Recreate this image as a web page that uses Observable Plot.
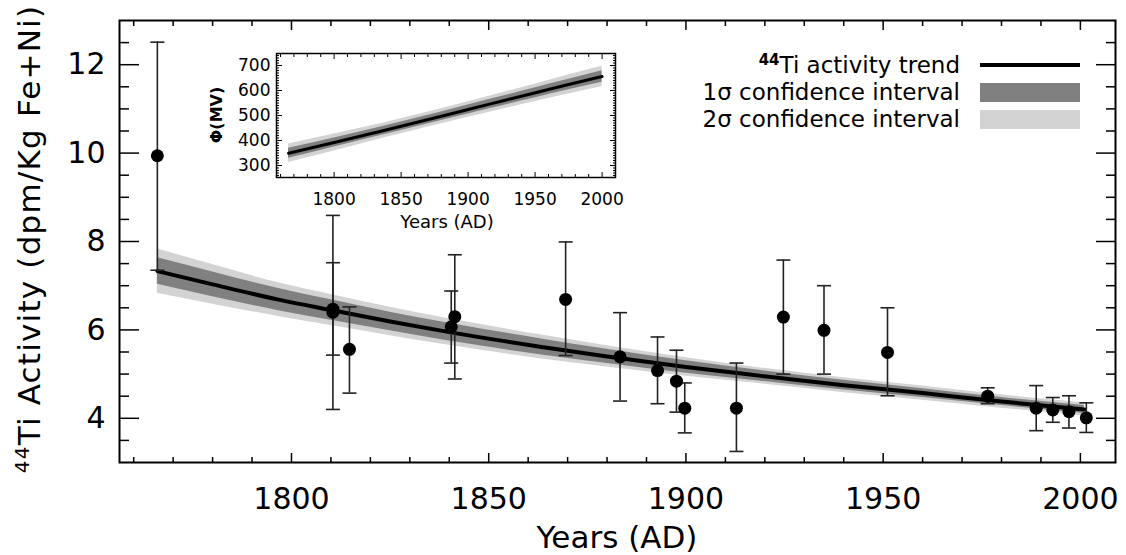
<!DOCTYPE html>
<html><head><meta charset="utf-8">
<script src="https://cdn.jsdelivr.net/npm/d3@7"></script>
<script src="https://cdn.jsdelivr.net/npm/@observablehq/plot@0.6"></script>
<style>
body{margin:0;background:#fff;}
#wrap{position:relative;width:1126px;height:555px;font-family:"DejaVu Sans",sans-serif;background:#fff;}
#wrap svg{position:absolute;background:transparent !important;overflow:visible;}
</style></head><body><div id="wrap"></div>
<script>
// ---- Measured samples (44Ti activity, dpm/kg Fe+Ni) ----
const sampleYears = [1766, 1810.5, 1810.5, 1814.7, 1840.5, 1841.4, 1869.5, 1883.3, 1892.8, 1897.6, 1899.7, 1912.8, 1924.7, 1935.0, 1951.1, 1976.5, 1988.8, 1993.0, 1997.1, 2001.5];
const activity    = [9.94, 6.40, 6.47, 5.56, 6.07, 6.30, 6.69, 5.39, 5.08, 4.84, 4.23, 4.23, 6.29, 5.99, 5.49, 4.50, 4.23, 4.19, 4.15, 4.01];
const errLow      = [7.35, 4.20, 5.43, 4.57, 5.25, 4.89, 5.42, 4.39, 4.33, 4.14, 3.67, 3.25, 5.00, 5.00, 4.51, 4.33, 3.72, 3.91, 3.78, 3.68];
const errHigh     = [12.51, 8.59, 7.52, 6.52, 6.88, 7.70, 7.99, 6.39, 5.84, 5.54, 4.80, 5.25, 7.58, 7.00, 6.50, 4.69, 4.74, 4.47, 4.51, 4.35];

// ---- Activity trend and confidence half-widths ----
const trendYears  = [1766, 1780, 1797, 1810, 1825, 1840, 1863, 1880, 1900, 1919, 1940, 1960, 1980, 2001];
const trendValues = [7.33, 7.03, 6.68, 6.45, 6.19, 5.95, 5.62, 5.40, 5.16, 4.96, 4.75, 4.57, 4.38, 4.20];
const sigma1Half  = [0.30, 0.28, 0.25, 0.23, 0.21, 0.20, 0.18, 0.16, 0.14, 0.12, 0.11, 0.10, 0.09, 0.09];
const sigma2Half  = [0.50, 0.45, 0.38, 0.35, 0.32, 0.30, 0.27, 0.24, 0.21, 0.18, 0.17, 0.16, 0.15, 0.15];

// ---- Inset: modulation potential Phi (MV) ----
const insetYears  = [1766, 1800, 1827, 1850, 1877, 1900, 1927, 1951, 1975, 2000];
const insetPhi    = [349, 392, 427, 457, 493, 524, 560, 592, 624, 656];
const insetSig1   = [20, 18, 17, 17, 17, 18, 19, 20, 21, 23];
const insetSig2   = [37, 34, 31, 30, 30, 31, 33, 35, 38, 41];

// ---- Tick labels ----
const xTickLabels = [1800, 1850, 1900, 1950, 2000];
const yTickLabels = [4, 6, 8, 10, 12];
const insetYTickLabels = [300, 400, 500, 600, 700];

const points = sampleYears.map((x, i) => ({x, v: activity[i], lo: errLow[i], hi: errHigh[i]}));
const trend = trendYears.map((x, i) => ({x, y: trendValues[i],
  a1: trendValues[i] - sigma1Half[i], b1: trendValues[i] + sigma1Half[i],
  a2: trendValues[i] - sigma2Half[i], b2: trendValues[i] + sigma2Half[i]}));
const inset = insetYears.map((x, i) => ({x, y: insetPhi[i],
  a1: insetPhi[i] - insetSig1[i], b1: insetPhi[i] + insetSig1[i],
  a2: insetPhi[i] - insetSig2[i], b2: insetPhi[i] + insetSig2[i]}));

const cap = {draw(ctx) { ctx.moveTo(-7, 0); ctx.lineTo(7, 0); }};
const FONT = "DejaVu Sans";

const xMinor = d3.range(1760, 2010, 10).filter(d => !xTickLabels.includes(d));
const yMinor = d3.range(3.5, 13, 0.5).filter(d => !yTickLabels.includes(d));
const blank = () => "";

function ticks(axis, vals, anchor, size, w) {
  return axis(vals, {anchor, tickSize: -size, tickFormat: blank, label: null, stroke: "black", strokeWidth: w});
}

const main = Plot.plot({
  width: 1126, height: 555,
  marginLeft: 119, marginRight: 11, marginTop: 20, marginBottom: 93,
  x: {domain: [1756.4, 2008.9]},
  y: {domain: [3, 13]},
  style: {fontFamily: FONT, background: "transparent", color: "black"},
  marks: [
    Plot.areaY(trend, {x: "x", y1: "a2", y2: "b2", fill: "#d3d3d3", curve: "monotone-x"}),
    Plot.areaY(trend, {x: "x", y1: "a1", y2: "b1", fill: "#808080", curve: "monotone-x"}),
    Plot.line(trend, {x: "x", y: "y", stroke: "black", strokeWidth: 4, curve: "monotone-x"}),
    Plot.ruleX(points, {x: "x", y1: "lo", y2: "hi", stroke: "#222", strokeWidth: 1.6}),
    Plot.dot(points, {x: "x", y: "hi", symbol: cap, fill: "none", stroke: "#222", strokeWidth: 1.6}),
    Plot.dot(points, {x: "x", y: "lo", symbol: cap, fill: "none", stroke: "#222", strokeWidth: 1.6}),
    Plot.dot(points, {x: "x", y: "v", r: 6.5, fill: "black"}),
    Plot.frame({stroke: "black", strokeWidth: 2}),
    ticks(Plot.axisX, xTickLabels, "bottom", 9, 1.5),
    ticks(Plot.axisX, xMinor, "bottom", 5, 1.5),
    ticks(Plot.axisX, xTickLabels, "top", 9, 1.5),
    ticks(Plot.axisX, xMinor, "top", 5, 1.5),
    ticks(Plot.axisY, yTickLabels, "left", 20, 1.5),
    ticks(Plot.axisY, yMinor, "left", 10, 1.5),
    ticks(Plot.axisY, yTickLabels, "right", 20, 1.5),
    ticks(Plot.axisY, yMinor, "right", 10, 1.5),
    Plot.axisX(xTickLabels, {anchor: "bottom", tickSize: 0, tickPadding: 25, fontSize: 30, label: null, tickFormat: d => String(d)}),
    Plot.axisY(yTickLabels, {anchor: "left", tickSize: 0, tickPadding: 14, fontSize: 30, label: null, tickFormat: d => String(d)})
  ]
});
main.style.left = "0px"; main.style.top = "0px";
const ms = d3.select(main);

// axis titles
ms.append("text").attr("x", 617).attr("y", 548).attr("text-anchor", "middle")
  .attr("font-size", 31).attr("font-family", FONT).attr("fill", "black").text("Years (AD)");
const yt = ms.append("text").attr("transform", "translate(40,239) rotate(-90)").attr("text-anchor", "middle")
  .attr("font-size", 31).attr("font-family", FONT).attr("letter-spacing", 1.2).attr("fill", "black");
yt.append("tspan").attr("font-size", 20).attr("dy", -11).text("44");
yt.append("tspan").attr("dy", 11).text("Ti Activity (dpm/Kg Fe+Ni)");

// legend
const lg = ms.append("g").attr("font-family", FONT).attr("font-size", 23).attr("fill", "black");
const t1 = lg.append("text").attr("x", 960).attr("y", 73).attr("text-anchor", "end");
t1.append("tspan").attr("font-size", 15).attr("font-weight", "bold").attr("dy", -8).text("44");
t1.append("tspan").attr("dy", 8).text("Ti activity trend");
lg.append("line").attr("x1", 980).attr("x2", 1080).attr("y1", 65).attr("y2", 65).attr("stroke", "black").attr("stroke-width", 4);
lg.append("text").attr("x", 960).attr("y", 100).attr("text-anchor", "end").text("1\u03c3 confidence interval");
lg.append("rect").attr("x", 980).attr("y", 83).attr("width", 100).attr("height", 19).attr("fill", "#808080");
lg.append("text").attr("x", 960).attr("y", 127).attr("text-anchor", "end").text("2\u03c3 confidence interval");
lg.append("rect").attr("x", 980).attr("y", 110).attr("width", 100).attr("height", 19).attr("fill", "#d3d3d3");

document.getElementById("wrap").appendChild(main);

// ---- Inset ----
const ix = 180, iy = 40;
const insetMinorX = d3.range(1760, 2010, 10).filter(d => !xTickLabels.includes(d));
const insetMinorY = d3.range(260, 750, 10).filter(d => !insetYTickLabels.includes(d));
const insetPlot = Plot.plot({
  width: 450, height: 200,
  marginLeft: 96, marginRight: 15, marginTop: 13, marginBottom: 63,
  x: {domain: [1757, 2010]},
  y: {domain: [252, 748]},
  style: {fontFamily: FONT, background: "transparent", color: "black"},
  marks: [
    Plot.areaY(inset, {x: "x", y1: "a2", y2: "b2", fill: "#d3d3d3", curve: "monotone-x"}),
    Plot.areaY(inset, {x: "x", y1: "a1", y2: "b1", fill: "#808080", curve: "monotone-x"}),
    Plot.line(inset, {x: "x", y: "y", stroke: "black", strokeWidth: 3, curve: "monotone-x"}),
    Plot.frame({stroke: "black", strokeWidth: 1.5}),
    ticks(Plot.axisX, xTickLabels, "bottom", 5, 1),
    ticks(Plot.axisX, insetMinorX, "bottom", 3, 1),
    ticks(Plot.axisX, xTickLabels, "top", 5, 1),
    ticks(Plot.axisX, insetMinorX, "top", 3, 1),
    ticks(Plot.axisY, insetYTickLabels, "left", 6, 1),
    ticks(Plot.axisY, insetMinorY, "left", 3, 1),
    ticks(Plot.axisY, insetYTickLabels, "right", 6, 1),
    ticks(Plot.axisY, insetMinorY, "right", 3, 1),
    Plot.axisX(xTickLabels, {anchor: "bottom", tickSize: 0, tickPadding: 15, fontSize: 17, label: null, tickFormat: d => String(d)}),
    Plot.axisY(insetYTickLabels, {anchor: "left", tickSize: 0, tickPadding: 6, fontSize: 17, label: null, tickFormat: d => String(d)})
  ]
});
insetPlot.style.left = ix + "px"; insetPlot.style.top = iy + "px";
const is = d3.select(insetPlot);
is.append("text").attr("x", 447 - ix).attr("y", 228 - iy).attr("text-anchor", "middle")
  .attr("font-size", 18).attr("font-family", FONT).attr("fill", "black").text("Years (AD)");
is.append("text").attr("transform", `translate(${222 - ix},${115 - iy}) rotate(-90)`).attr("text-anchor", "middle")
  .attr("font-size", 16).attr("font-weight", "bold").attr("font-family", FONT).attr("fill", "black").text("\u03a6(MV)");
document.getElementById("wrap").appendChild(insetPlot);
</script>
</body></html>
